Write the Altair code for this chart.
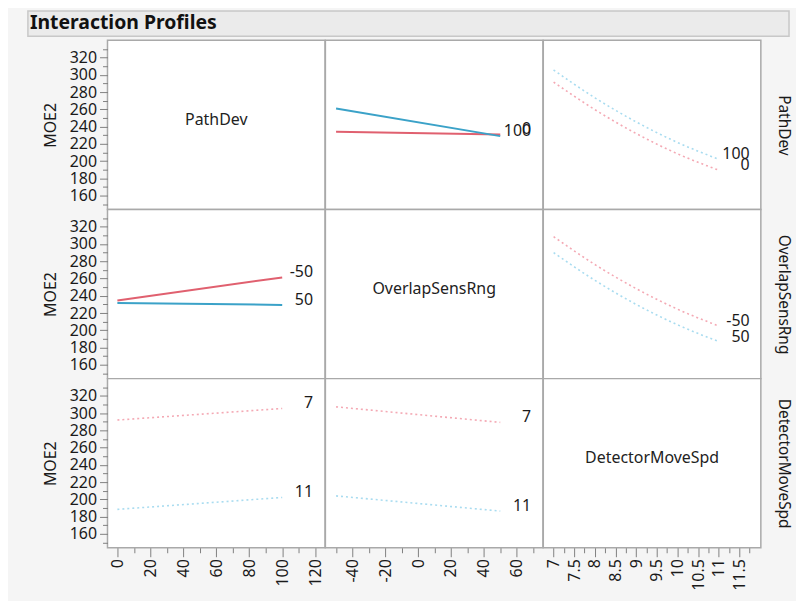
import altair as alt
import pandas as pd

FONT = "Noto Sans"
VARS = ["PathDev", "OverlapSensRng", "DetectorMoveSpd"]

# x values at which the profiles are drawn
pathdev_x = [0, 100]
overlap_x = [-50, 50]
speed_x = [7, 8, 9, 10, 11]
X_VALUES = [pathdev_x, overlap_x, speed_x]

# trace levels (low -> red, high -> blue)
pathdev_levels = ["0", "100"]
overlap_levels = ["-50", "50"]
speed_levels = ["7", "11"]
LEVELS = [pathdev_levels, overlap_levels, speed_levels]

# MOE2, keyed by (row = trace factor, col = x factor)
pd_vs_overlap_lo = [234, 231]
pd_vs_overlap_hi = [261, 229]
pd_vs_speed_lo = [291.6, 259.7, 232.0, 208.6, 189.5]
pd_vs_speed_hi = [305.7, 273.4, 245.5, 221.7, 202.2]
ov_vs_pathdev_lo = [234.5, 261.3]
ov_vs_pathdev_hi = [231.7, 229.4]
ov_vs_speed_lo = [308.5, 276.2, 248.3, 224.5, 205.0]
ov_vs_speed_hi = [290.0, 257.9, 230.0, 206.4, 187.0]
sp_vs_pathdev_lo = [292.0, 305.4]
sp_vs_pathdev_hi = [188.5, 202.3]
sp_vs_overlap_lo = [307.3, 289.3]
sp_vs_overlap_hi = [204.1, 186.5]

SERIES = {
    (0, 1): (pd_vs_overlap_lo, pd_vs_overlap_hi, False),
    (0, 2): (pd_vs_speed_lo, pd_vs_speed_hi, True),
    (1, 0): (ov_vs_pathdev_lo, ov_vs_pathdev_hi, False),
    (1, 2): (ov_vs_speed_lo, ov_vs_speed_hi, True),
    (2, 0): (sp_vs_pathdev_lo, sp_vs_pathdev_hi, True),
    (2, 1): (sp_vs_overlap_lo, sp_vs_overlap_hi, True),
}

Y_DOMAIN = [144, 340]
Y_TICKS = list(range(150, 331, 10))
X_DOMAINS = [[-6, 126], [-56.5, 76], [6.75, 12.02]]
X_TICKS = [list(range(0, 121, 10)), list(range(-50, 71, 10)), [7 + 0.25 * i for i in range(20)]]
X_MAJOR = ["20", "20", "0.5"]

W, H = 218.67, 170

ROLE_DOMAIN = ["lo", "hi", "lo_dot", "hi_dot"]
ROLE_RANGE = ["#e0606f", "#3ba2c8", "#f4a9b4", "#a9dcf0"]


def x_axis(r, c):
    if r != 2:
        return None
    maj = X_MAJOR[c]
    return alt.Axis(
        values=X_TICKS[c], title=None, labelAngle=270, labelOverlap=False,
        labelExpr=f"datum.value % {maj} == 0 ? ('' + datum.value) : ''",
        tickSize={"condition": {"test": f"datum.value % {maj} == 0", "value": 9}, "value": 5},
        labelPadding=2, domain=False, grid=False, labelFlush=False)


def y_axis(r, c):
    if c == 0:
        return alt.Axis(
            values=Y_TICKS, title="MOE2", labelOverlap=False, labelFlush=False,
            labelExpr="datum.value % 20 == 0 ? ('' + datum.value) : ''",
            tickSize={"condition": {"test": "datum.value % 20 == 0", "value": 8}, "value": 5},
            labelPadding=3, titlePadding=11, domain=False, grid=False)
    if c == 2:
        return alt.Axis(orient="right", title=VARS[r], titleAngle=90, labels=False,
                        ticks=False, domain=False, grid=False, titlePadding=15,
                        titleFontSize=15.5)
    return None


def panel(r, c):
    xs = alt.X("x:Q", scale=alt.Scale(domain=X_DOMAINS[c], nice=False, zero=False), axis=x_axis(r, c))
    ys = alt.Y("y:Q", scale=alt.Scale(domain=Y_DOMAIN, nice=False, zero=False), axis=y_axis(r, c))
    layers = []
    if r == c:
        anchor = pd.DataFrame({"x": [float(v) for v in X_VALUES[c][:: len(X_VALUES[c]) - 1]],
                               "y": Y_DOMAIN})
        layers.append(alt.Chart(anchor).mark_point(opacity=0).encode(x=xs, y=ys))
        name = pd.DataFrame({"t": [VARS[r]]})
        layers.append(alt.Chart(name).mark_text(font=FONT, fontSize=16, color="#222222").encode(
            text="t:N", x=alt.value(W / 2), y=alt.value(H / 2 - 5)))
    else:
        lo, hi, dotted = SERIES[(r, c)]
        rows = []
        for lvl, role, vals in [(LEVELS[r][0], "lo", lo), (LEVELS[r][1], "hi", hi)]:
            role = role + ("_dot" if dotted else "")
            for i, (xv, yv) in enumerate(zip(X_VALUES[c], vals)):
                rows.append({"x": xv, "y": yv, "role": role, "level": lvl,
                             "last": i == len(vals) - 1})
        df = pd.DataFrame(rows)
        color = alt.Color("role:N", scale=alt.Scale(domain=ROLE_DOMAIN, range=ROLE_RANGE), legend=None)
        line_kw = dict(strokeWidth=1.6, strokeDash=[2, 3], interpolate="monotone") if dotted \
            else dict(strokeWidth=2)
        layers.append(alt.Chart(df).mark_line(**line_kw).encode(x=xs, y=ys, color=color, detail="role:N"))
        layers.append(alt.Chart(df).transform_filter("datum.last").mark_text(
            font=FONT, fontSize=16, color="#1a1a1a", align="right", baseline="middle", dx=31, dy=-5
        ).encode(x=xs, y=ys, text="level:N"))
    if r == 0 and c == 0:
        tdf = pd.DataFrame({"t": ["Interaction Profiles"]})
        layers.insert(0, alt.Chart(tdf).mark_rect(fill="#ebebeb", stroke="#c8c8c8", strokeWidth=1.5).encode(
            x=alt.value(-80), x2=alt.value(685), y=alt.value(-29.5), y2=alt.value(-4)))
        layers.insert(1, alt.Chart(tdf).mark_text(font=FONT, fontSize=19.5, fontWeight="bold", color="#111111",
                                                  align="left", baseline="middle").encode(
            text="t:N", x=alt.value(-78), y=alt.value(-17)))
    return alt.layer(*layers).properties(width=W, height=H)


charts = [panel(r, c) for r in range(3) for c in range(3)]

chart = alt.concat(*charts, columns=3, spacing=0, bounds="flush").properties(
    background="#f5f5f5",
    padding={"left": 18, "top": 0, "right": 4, "bottom": 8},
).configure_view(
    fill="white", stroke="#a9a9a9", strokeWidth=1.5
).configure_axis(
    labelFont=FONT, titleFont=FONT, labelFontSize=16, titleFontSize=16,
    titleFontWeight="normal", labelColor="#1a1a1a", titleColor="#1a1a1a",
    tickColor="#808080", tickWidth=1
)

chart.save("out.html", embed_options={"renderer": "svg", "actions": False})
